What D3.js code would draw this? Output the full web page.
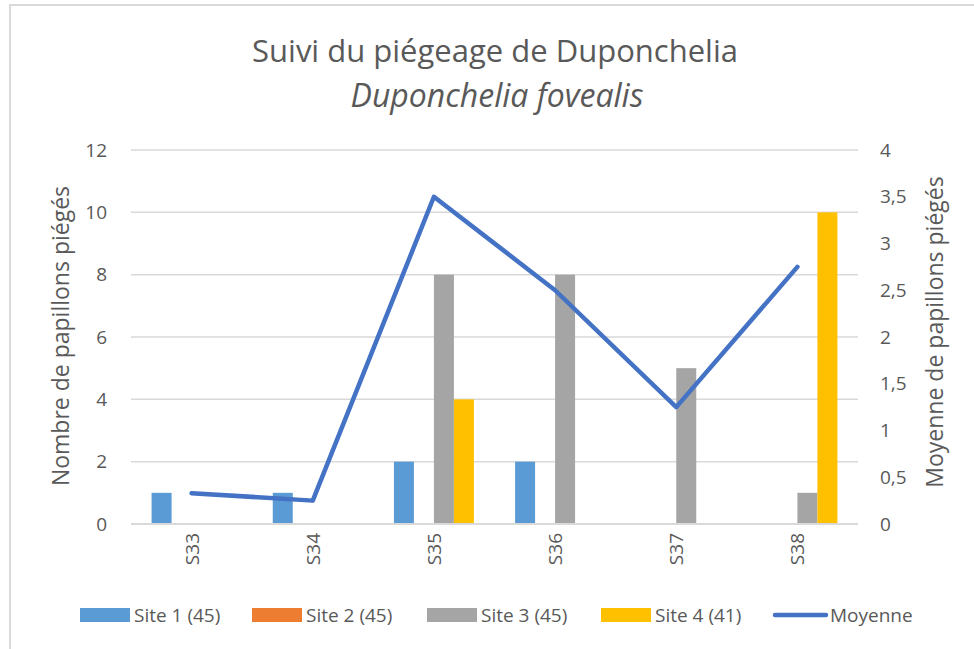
<!DOCTYPE html>
<html>
<head>
<meta charset="utf-8">
<script src="https://cdn.jsdelivr.net/npm/d3@7"></script>
<style>
  body { margin: 0; background: #fff; }
  svg text { font-family: "Open Sans", sans-serif; fill: #595959; }
</style>
</head>
<body>
<div class="chart"></div>
<script>
// data
const weeks = ["S33", "S34", "S35", "S36", "S37", "S38"];
const site1 = [1, 1, 2, 2, 0, 0];
const site2 = [0, 0, 0, 0, 0, 0];
const site3 = [0, 0, 8, 8, 5, 1];
const site4 = [0, 0, 4, 0, 0, 10];
const moyenne = [0.33, 0.25, 3.5, 2.5, 1.25, 2.75];
const seriesNames = ["Site 1 (45)", "Site 2 (45)", "Site 3 (45)", "Site 4 (41)"];
const leftTicks = [0, 2, 4, 6, 8, 10, 12];
const rightTicks = [0, 0.5, 1, 1.5, 2, 2.5, 3, 3.5, 4];

const colors = ["#5B9BD5", "#ED7D31", "#A5A5A5", "#FFC000"];
const lineColor = "#4472C4";

const W = 974, H = 649;
const margin = { top: 150, right: 116, bottom: 125, left: 131 };
const width = W - margin.left - margin.right,
    height = H - margin.top - margin.bottom;

const svg = d3.select(".chart").append("svg")
    .attr("width", W)
    .attr("height", H);

// frame (only top and left edges visible)
svg.append("path")
    .attr("d", "M10,649 L10,5 L974,5")
    .attr("fill", "none")
    .attr("stroke", "#d9d9d9")
    .attr("stroke-width", 2);

// titles
svg.append("text")
    .attr("x", 495).attr("y", 62)
    .attr("text-anchor", "middle")
    .attr("font-size", "31px")
    .text("Suivi du piégeage de Duponchelia");
svg.append("text")
    .attr("x", 497).attr("y", 107)
    .attr("text-anchor", "middle")
    .attr("font-size", "32px")
    .attr("font-style", "italic")
    .text("Duponchelia fovealis");

const g = svg.append("g")
    .attr("transform", "translate(" + margin.left + "," + margin.top + ")");

const x = d3.scaleBand().domain(weeks).range([0, width]).paddingInner(0).paddingOuter(0);
const x1 = d3.scaleBand().domain(d3.range(4)).range([0, x.bandwidth()]).paddingOuter(1.03).paddingInner(0);
const y = d3.scaleLinear().domain([0, 12]).range([height, 0]);
const y2 = d3.scaleLinear().domain([0, 4]).range([height, 0]);

// gridlines
g.append("g")
    .selectAll("line")
    .data(leftTicks)
    .enter().append("line")
    .attr("x1", 0).attr("x2", width)
    .attr("y1", d => y(d)).attr("y2", d => y(d))
    .attr("stroke", "#d9d9d9")
    .attr("stroke-width", 1.5);

// left axis
const yAxis = g.append("g")
    .call(d3.axisLeft(y).tickValues(leftTicks).tickSize(0).tickPadding(24));
yAxis.select(".domain").remove();
yAxis.selectAll("text").attr("font-size", "19px").attr("fill", "#595959");

// right axis
const yAxis2 = g.append("g")
    .attr("transform", "translate(" + width + ",0)")
    .call(d3.axisRight(y2).tickValues(rightTicks).tickSize(0).tickPadding(22)
        .tickFormat(d => String(d).replace(".", ",")));
yAxis2.select(".domain").remove();
yAxis2.selectAll("text").attr("font-size", "19px").attr("fill", "#595959");

// bars
const series = [site1, site2, site3, site4];
const groups = g.selectAll(".week")
    .data(weeks)
    .enter().append("g")
    .attr("transform", d => "translate(" + x(d) + ",0)");

groups.selectAll("rect")
    .data((w, i) => series.map((s, k) => ({ k: k, value: s[i] })))
    .enter().append("rect")
    .attr("x", d => x1(d.k))
    .attr("width", x1.bandwidth())
    .attr("y", d => y(d.value))
    .attr("height", d => height - y(d.value))
    .attr("fill", d => colors[d.k]);

// baseline
g.append("line")
    .attr("x1", 0).attr("x2", width)
    .attr("y1", height).attr("y2", height)
    .attr("stroke", "#d9d9d9")
    .attr("stroke-width", 2);

// x labels (rotated)
g.selectAll(".xlab")
    .data(weeks)
    .enter().append("text")
    .attr("transform", d => "translate(" + (x(d) + x.bandwidth() / 2 + 7) + "," + (height + 9) + ") rotate(-90)")
    .attr("text-anchor", "end")
    .attr("font-size", "19px")
    .text(d => d);

// line
const line = d3.line()
    .x((d, i) => x(weeks[i]) + x.bandwidth() / 2)
    .y(d => y2(d));
g.append("path")
    .datum(moyenne)
    .attr("d", line)
    .attr("fill", "none")
    .attr("stroke", lineColor)
    .attr("stroke-width", 4.5)
    .attr("stroke-linejoin", "round")
    .attr("stroke-linecap", "round");

// axis titles
svg.append("text")
    .attr("transform", "translate(69," + (margin.top + height / 2 - 1) + ") rotate(-90)")
    .attr("text-anchor", "middle")
    .attr("font-size", "23px")
    .text("Nombre de papillons piégés");
svg.append("text")
    .attr("transform", "translate(943," + (margin.top + height / 2 - 5) + ") rotate(-90)")
    .attr("text-anchor", "middle")
    .attr("font-size", "23px")
    .text("Moyenne de papillons piégés");

// legend
const legendX = [80, 252, 427, 601];
const legend = svg.append("g");
seriesNames.forEach((name, k) => {
    legend.append("rect")
        .attr("x", legendX[k]).attr("y", 608)
        .attr("width", 50).attr("height", 14)
        .attr("fill", colors[k]);
    legend.append("text")
        .attr("x", legendX[k] + 54).attr("y", 622)
        .attr("font-size", "19px")
        .text(name);
});
legend.append("line")
    .attr("x1", 775).attr("x2", 826)
    .attr("y1", 615).attr("y2", 615)
    .attr("stroke", lineColor)
    .attr("stroke-width", 4.5)
    .attr("stroke-linecap", "round");
legend.append("text")
    .attr("x", 830).attr("y", 622)
    .attr("font-size", "19px")
    .text("Moyenne");
</script>
</body>
</html>
